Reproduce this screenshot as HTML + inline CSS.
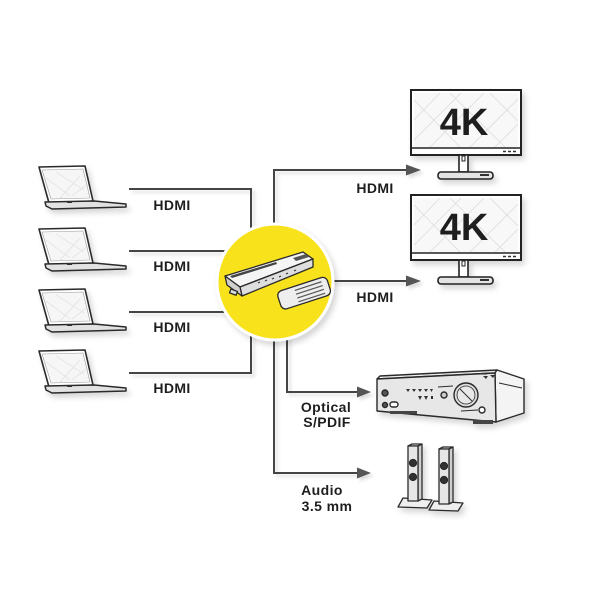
<!DOCTYPE html>
<html><head><meta charset="utf-8"><style>
html,body{margin:0;padding:0;background:#fff;}
svg{display:block;}
text{font-family:"Liberation Sans",Arial,sans-serif;font-weight:bold;fill:#1e1e1e;}
</style></head><body>
<svg width="600" height="600" viewBox="0 0 600 600" xmlns="http://www.w3.org/2000/svg">
<defs>
<filter id="sh" x="-20%" y="-20%" width="150%" height="150%">
<feDropShadow dx="3" dy="4" stdDeviation="3" flood-color="#000" flood-opacity="0.16"/>
</filter>
<filter id="shl" x="-10%" y="-10%" width="130%" height="130%">
<feDropShadow dx="3" dy="3" stdDeviation="1.5" flood-color="#000" flood-opacity="0.13"/>
</filter>
<g id="lap">
<polygon points="39,167 85,166 93,201 49,203" fill="#fff" stroke="#2a2a2a" stroke-width="1.6" stroke-linejoin="round"/>
<polygon points="42,170 83,169 90,198 51,199" fill="#f6f6f6" stroke="#999" stroke-width="0.6"/>
<path d="M46,178 L70,196 M56,172 L84,190 M60,198 L80,176 M72,196 L88,184" stroke="#ddd" stroke-width="0.6" fill="none"/>
<polygon points="45,202 94,201 126,204 126,207 52,209 46,206" fill="#e2e2e2" stroke="#2a2a2a" stroke-width="1.5" stroke-linejoin="round"/>
<rect x="67" y="201" width="5" height="2" fill="#333"/>
</g>
<g id="mon">
<rect x="411" y="90" width="110" height="65" fill="#fff" stroke="#222" stroke-width="2"/>
<rect x="414" y="93" width="104" height="54" fill="#f8f8f8"/>
<path d="M414,120 L440,93 M414,140 L461,93 M430,147 L484,93 M470,147 L518,99 M495,147 L518,124 M414,100 L460,147 M450,93 L505,147 M490,93 L518,121" stroke="#dcdcdc" stroke-width="0.8" fill="none"/>
<line x1="411" y1="148" x2="521" y2="148" stroke="#222" stroke-width="1.5"/>
<path d="M503,151.5 h3 M508,151.5 h3 M513,151.5 h3" stroke="#333" stroke-width="1.5"/>
<rect x="459" y="155" width="9" height="17" fill="#fff" stroke="#222" stroke-width="1.6"/>
<rect x="462" y="156" width="3" height="5" fill="#fff" stroke="#222" stroke-width="1"/>
<rect x="438" y="172" width="55" height="7" rx="3" fill="#e4e4e4" stroke="#222" stroke-width="1.6"/>
<rect x="480" y="174" width="9" height="2" fill="#333"/>
</g>
</defs>

<!-- connectors -->
<g filter="url(#shl)" stroke="#454545" stroke-width="2" fill="none">
<polyline points="129,189 251,189 251,373 129,373"/>
<line x1="129" y1="251" x2="260" y2="251"/>
<line x1="129" y1="312" x2="260" y2="312"/>
<polyline points="274,240 274,170 408,170"/>
<line x1="300" y1="281" x2="408" y2="281"/>
<polyline points="287,320 287,392 359,392"/>
<polyline points="274,320 274,473 359,473"/>
</g>
<g fill="#555" filter="url(#shl)">
<polygon points="406,164.5 421,170 406,175.5"/>
<polygon points="406,275.5 421,281 406,286.5"/>
<polygon points="357,386.5 371,392 357,397.5"/>
<polygon points="357,467.5 371,473 357,478.5"/>
</g>

<!-- laptops -->
<g filter="url(#sh)">
<use href="#lap"/>
<use href="#lap" y="62"/>
<use href="#lap" y="123"/>
<use href="#lap" y="184"/>
</g>

<!-- monitors -->
<g filter="url(#sh)">
<use href="#mon"/>
<use href="#mon" y="105"/>
</g>
<text x="464" y="135" font-size="38" text-anchor="middle">4K</text>
<text x="464" y="240" font-size="38" text-anchor="middle">4K</text>

<!-- central circle -->
<circle cx="275" cy="282" r="58" fill="#f8e21c" stroke="#fff" stroke-width="3" filter="url(#sh)"/>
<g stroke="#2a2a2a" stroke-width="1.3" stroke-linejoin="round">
<polygon points="225,276 303,252 313,259 240,287" fill="#f5f5f5"/>
<polygon points="240,287 313,259 313,267 242,296" fill="#dedede"/>
<polygon points="225,276 240,287 242,296 227,285" fill="#cfcfcf"/>
<polygon points="230,276 276,262 277,264 232,278" fill="#444" stroke="none"/>
<polygon points="293,258 306,254 309,257 296,261" fill="#555" stroke="none"/>
<rect x="230" y="290" width="7" height="4" fill="#ddd" transform="rotate(20 233 292)"/>
<g transform="rotate(-18 303 293)">
<rect x="278" y="284" width="52" height="19" rx="5" fill="#eee"/>
<path d="M296,288 h28 M296,292 h28 M296,296 h28 M296,300 h28" stroke="#555" stroke-width="1.2" fill="none"/>
</g>
</g>
<path d="M258,283 l2,-1 M265,281 l2,-1 M272,279 l2,-1 M279,277 l2,-1 M286,274 l2,-1 M294,271 l2,-1" stroke="#333" stroke-width="1"/>

<!-- amplifier -->
<g filter="url(#sh)" stroke="#2a2a2a" stroke-width="1.4" stroke-linejoin="round">
<polygon points="377,379 380,376 497,370 495,373" fill="#eee"/>
<polygon points="495,373 497,370 524,379 524,413 496,422" fill="#f4f4f4"/>
<polygon points="377,379 495,373 496,422 377,411" fill="#e7e7e7"/>
<line x1="499" y1="383" x2="522" y2="388" stroke-width="1"/>
<circle cx="466" cy="395" r="12" fill="#ddd"/>
<circle cx="466" cy="395" r="9" fill="#e8e8e8" stroke-width="0.8"/>
<line x1="460" y1="389" x2="472" y2="401" stroke-width="1"/>
<circle cx="385" cy="393" r="3" fill="#555"/>
<circle cx="385" cy="405" r="2.5" fill="#555"/>
<rect x="390" y="402" width="8" height="5" rx="2.5" fill="#fff"/>
<circle cx="444" cy="395" r="3" fill="#ccc"/>
<line x1="438" y1="387" x2="453" y2="386" stroke-width="1"/>
<line x1="461" y1="411" x2="478" y2="410" stroke-width="1"/>
<circle cx="482" cy="410" r="3" fill="#fff"/>
<rect x="390" y="411" width="27" height="3" fill="#444" stroke="none"/>
<rect x="473" y="420" width="20" height="4" fill="#444" stroke="none"/>
</g>
<g fill="#333">
<path d="M406,389 h4 l-2,3z M412,389 h4 l-2,3z M418,389 h4 l-2,3z M424,389 h4 l-2,3z M430,389 h3 l-1.5,3z"/>
<path d="M418,396 h4 l-2,4z M424,396 h4 l-2,4z M431,396 h2 v3 h-2z"/>
<path d="M483,376 h5 l-2,3z M490,375 h5 l-2,3z M480,373 h7 v1.5 h-7z"/>
</g>

<!-- speakers -->
<g filter="url(#sh)" stroke="#2a2a2a" stroke-width="1.3" stroke-linejoin="round">
<g id="spk">
<polygon points="403,498 432,500 427,508 398,507" fill="#eee"/>
<polygon points="408,446 412,444 422,444 418,446" fill="#f2f2f2"/>
<polygon points="418,446 422,444 422,499 418,501" fill="#cfcfcf"/>
<rect x="408" y="446" width="10" height="55" fill="#e6e6e6"/>
<circle cx="413" cy="463" r="3.5" fill="#333"/>
<circle cx="413" cy="477" r="3.5" fill="#333"/>
</g>
<use href="#spk" x="31" y="3"/>
</g>

<!-- labels -->
<g font-size="14" letter-spacing="0.4">
<text x="172" y="210" text-anchor="middle">HDMI</text>
<text x="172" y="271" text-anchor="middle">HDMI</text>
<text x="172" y="332" text-anchor="middle">HDMI</text>
<text x="172" y="393" text-anchor="middle">HDMI</text>
<text x="375" y="193" text-anchor="middle">HDMI</text>
<text x="375" y="302" text-anchor="middle">HDMI</text>
<text x="326" y="412" text-anchor="middle">Optical</text>
<text x="327" y="427" text-anchor="middle">S/PDIF</text>
<text x="322" y="495" text-anchor="middle">Audio</text>
<text x="327" y="511" text-anchor="middle">3.5 mm</text>
</g>
</svg>
</body></html>
